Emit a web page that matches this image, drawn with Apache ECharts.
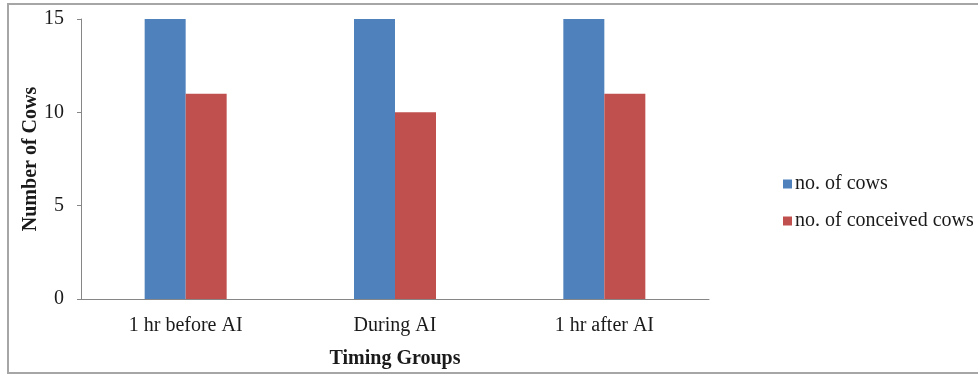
<!DOCTYPE html>
<html>
<head>
<meta charset="utf-8">
<script src="https://cdn.jsdelivr.net/npm/echarts@6/dist/echarts.min.js"></script>
<style>
html,body{margin:0;padding:0;background:#fff;}
#chart{width:978px;height:376px;}
</style>
</head>
<body>
<div id="chart"></div>
<script>
const categories = ['1 hr before AI', 'During AI', '1 hr after AI'];
const seriesNames = ['no. of cows', 'no. of conceived cows'];
const cowsValues = [15, 15, 15];
const conceivedValues = [11, 10, 11];
const yTicks = [0, 5, 10, 15];

const FONT = 'Liberation Serif';
const chart = echarts.init(document.getElementById('chart'));
chart.setOption({
  backgroundColor: '#fff',
  animation: false,
  graphic: [{
    type: 'rect',
    shape: { x: 8, y: 4, width: 1000, height: 369 },
    style: { fill: 'none', stroke: '#a6a6a6', lineWidth: 2 },
    silent: true
  }],
  grid: { left: 81, right: 269, top: 19, bottom: 77 },
  legend: {
    orient: 'vertical',
    left: 783,
    top: 174,
    padding: 0,
    itemWidth: 9,
    itemHeight: 9,
    itemGap: 17,
    icon: 'rect',
    textStyle: { fontFamily: FONT, fontSize: 20, color: '#1a1a1a', padding: [0, 0, 0, -2] },
    data: seriesNames
  },
  xAxis: {
    type: 'category',
    data: categories,
    name: 'Timing Groups',
    nameLocation: 'middle',
    nameGap: 50,
    nameMoveOverlap: false,
    nameTextStyle: { fontFamily: FONT, fontSize: 20, fontWeight: 'bold', color: '#1a1a1a' },
    axisLine: { lineStyle: { color: '#868686', width: 1 } },
    axisTick: { show: false },
    axisLabel: { fontFamily: FONT, fontSize: 20, color: '#1a1a1a', margin: 17 },
    splitLine: { show: false }
  },
  yAxis: {
    type: 'value',
    min: yTicks[0],
    max: yTicks[yTicks.length - 1],
    interval: yTicks[1] - yTicks[0],
    name: 'Number of Cows',
    nameLocation: 'middle',
    nameGap: 40,
    nameMoveOverlap: false,
    nameTextStyle: { fontFamily: FONT, fontSize: 20, fontWeight: 'bold', color: '#1a1a1a' },
    axisLine: { show: true, lineStyle: { color: '#868686', width: 1 } },
    axisTick: { show: true, length: 4, lineStyle: { color: '#868686' } },
    axisLabel: { fontFamily: FONT, fontSize: 20, color: '#1a1a1a', margin: 17 },
    splitLine: { show: false }
  },
  series: [
    {
      name: seriesNames[0],
      type: 'bar',
      data: cowsValues,
      barWidth: 41,
      barGap: '0%',
      itemStyle: { color: '#4F81BD' }
    },
    {
      name: seriesNames[1],
      type: 'bar',
      data: conceivedValues,
      barWidth: 41,
      barGap: '0%',
      itemStyle: { color: '#C0504D' }
    }
  ]
});
</script>
</body>
</html>
